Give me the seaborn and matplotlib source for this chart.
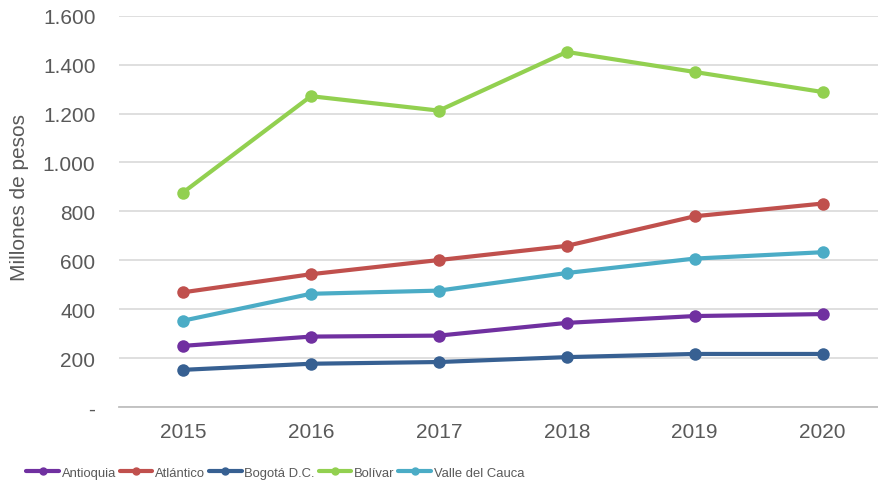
import pandas as pd
import numpy as np

import matplotlib
matplotlib.use("Agg")
import matplotlib.pyplot as plt
from matplotlib.lines import Line2D
from matplotlib.ticker import FuncFormatter
import seaborn as sns


# =========================================
# DATA
# =========================================

years = ["2015", "2016", "2017", "2018", "2019", "2020"]

antioquia = [250, 288, 292, 344, 372, 380]
atlantico = [469, 543, 601, 659, 780, 832]
bogota = [152, 177, 184, 204, 217, 217]
bolivar = [877, 1271, 1212, 1452, 1370, 1288]
valle = [353, 463, 476, 548, 607, 633]

regions = ["Antioquia", "Atlántico", "Bogotá D.C.", "Bolívar", "Valle del Cauca"]
colors = ["#7030A0", "#C0504D", "#376092", "#92D050", "#4BACC6"]

series = [antioquia, atlantico, bogota, bolivar, valle]

df = pd.DataFrame({
    "Año": years * len(regions),
    "Valor": np.concatenate(series),
    "Región": np.repeat(regions, len(years)),
})


# =========================================
# PLOT
# =========================================

sns.set_style("white")
plt.rcParams["font.family"] = ["Liberation Sans", "DejaVu Sans"]

fig = plt.figure(figsize=(8.79, 4.89), dpi=100)
ax = fig.add_axes([0.1354, 0.1656, 0.8733, 0.8002])

sns.lineplot(
    data=df,
    x="Año",
    y="Valor",
    hue="Región",
    hue_order=regions,
    palette=colors,
    marker="o",
    markersize=9,
    markeredgewidth=0,
    linewidth=3,
    sort=False,
    legend=False,
    ax=ax,
)

ax.set_xlim(-0.5, 5.5)
ax.set_ylim(0, 1600)
ax.set_yticks(range(0, 1601, 200))

ax.yaxis.set_major_formatter(FuncFormatter(
    lambda v, p: "-" if v == 0 else f"{v:,.0f}".replace(",", ".")
))

ax.grid(axis="y", color="#D9D9D9", linewidth=1.2)
ax.set_axisbelow(True)
for s in ["top", "right", "left"]:
    ax.spines[s].set_visible(False)
ax.spines["bottom"].set_color("#BFBFBF")
ax.spines["bottom"].set_linewidth(1.3)

ax.tick_params(axis="y", length=0, pad=17, labelsize=15, labelcolor="#595959")
ax.tick_params(axis="x", length=0, pad=11, labelsize=15, labelcolor="#595959")

ax.set_xlabel("")
ax.set_ylabel("Millones de pesos", fontsize=15, color="#595959")
ax.yaxis.set_label_coords(-0.117, 0.539)

handles = [
    Line2D([0], [0], color=c, linewidth=3, marker="o", markersize=5)
    for c in colors
]

fig.legend(
    handles,
    regions,
    loc="center",
    bbox_to_anchor=(0.313, 0.031),
    ncol=5,
    frameon=False,
    handlelength=2.5,
    handletextpad=0.2,
    columnspacing=0.3,
    prop={"size": 9.4},
    labelcolor="#595959",
)

plt.savefig("out.png", dpi=100)
